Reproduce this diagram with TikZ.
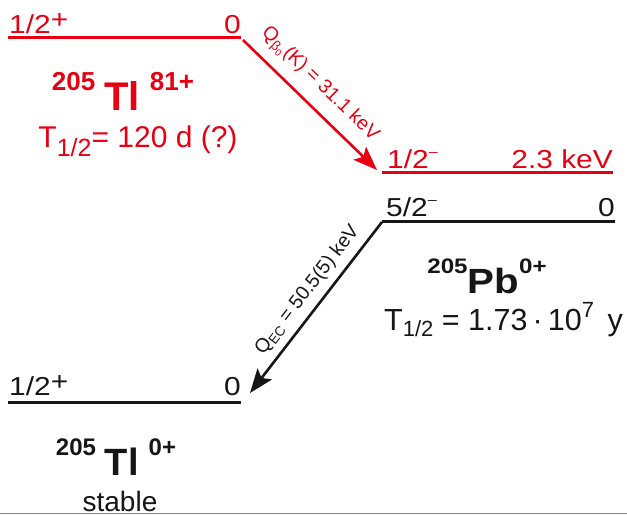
\documentclass[tikz,border=0pt]{standalone}
\usepackage{fontspec}
\usepackage{graphicx}
\setmainfont{Liberation Sans}
\usetikzlibrary{arrows.meta}
\definecolor{nred}{RGB}{230,0,18}
\definecolor{nblk}{RGB}{22,22,22}
\newcommand\fsz[1]{\fontsize{#1}{#1}\selectfont}
\newcommand\plussup{\raisebox{5pt}{+}}
\newcommand\minsup{\raisebox{13pt}{\fsz{14}–}}
\tikzset{
  lvltxt/.style={inner sep=0pt, font=\fsz{26}},
  lvlline/.style={line width=3pt},
  decay/.style={line width=2.6pt, -{Stealth[length=24pt,width=18pt,inset=5pt]}, shorten >=0pt},
  qlabel/.style={inner sep=0pt, font=\fsz{19.5}, sloped},
  bigtxt/.style={inner sep=0pt, anchor=base},
}
\begin{document}
\begin{tikzpicture}[x=1pt,y=-1pt]
\useasboundingbox (0,0) rectangle (627,516);
% ---- 205Tl 81+ (red)
\coordinate (a1) at (8,37.5);
\coordinate (a2) at (241,37.5);
\draw[lvlline, nred] (a1) -- (a2);
\node[lvltxt, text=nred, anchor=base west] (l1j) at (9,34) {\scalebox{1.15}[1]{1/2\plussup}};
\node[lvltxt, text=nred, anchor=base east] (l1e) at (241,34) {\scalebox{1.15}[1]{0}};
\node[bigtxt, text=nred] (tl81) at (123,111)
  {\raisebox{20pt}{\fsz{26}\bfseries 205}\hspace{9pt}{\fsz{40}\bfseries Tl}\hspace{10pt}\raisebox{20pt}{\fsz{26}\bfseries 81+}};
\node[bigtxt, text=nred] (th1) at (138,148)
  {\fsz{30}T\raisebox{-9pt}{\fsz{25}1/2}= 120 d (?)};
% ---- 205Pb 2.3 keV level (red)
\coordinate (b1) at (382,173);
\coordinate (b2) at (613,173);
\draw[lvlline, nred] (b1) -- (b2);
\node[lvltxt, text=nred, anchor=base west] (l2j) at (387,169) {\scalebox{1.15}[1]{1/2\minsup}};
\node[lvltxt, text=nred, anchor=base east] (l2e) at (613,169) {\scalebox{1.15}[1]{2.3 keV}};
% ---- 205Pb ground (black)
\coordinate (c1) at (382,222);
\coordinate (c2) at (615,222);
\draw[lvlline, nblk] (c1) -- (c2);
\node[lvltxt, text=nblk, anchor=base west] (l3j) at (386,217) {\scalebox{1.15}[1]{5/2\minsup}};
\node[lvltxt, text=nblk, anchor=base east] (l3e) at (615,217) {\scalebox{1.15}[1]{0}};
\node[bigtxt, text=nblk] (pb) at (487,293)
  {\scalebox{1.15}[1]{\raisebox{20pt}{\fsz{21}\bfseries 205}{\fsz{35}\bfseries Pb}\raisebox{20pt}{\fsz{21}\bfseries 0+}}};
\node[bigtxt, text=nblk, anchor=base west] (th2) at (384,330)
  {\fsz{30.5}T\raisebox{-6pt}{\fsz{22}1/2} = 1.73\,·\,10\raisebox{13pt}{\fsz{22}7}\, y};
% ---- 205Tl ground (black)
\coordinate (d1) at (8,402);
\coordinate (d2) at (241,402);
\draw[lvlline, nblk] (d1) -- (d2);
\node[lvltxt, text=nblk, anchor=base west] (l4j) at (9,395) {\scalebox{1.15}[1]{1/2\plussup}};
\node[lvltxt, text=nblk, anchor=base east] (l4e) at (241,395) {\scalebox{1.15}[1]{0}};
\node[bigtxt, text=nblk] (tl0) at (116,475)
  {\raisebox{20pt}{\fsz{24}\bfseries 205}\hspace{9pt}{\fsz{38}\bfseries Tl}\hspace{10pt}\raisebox{20pt}{\fsz{24}\bfseries 0+}};
\node[bigtxt, text=nblk] (st) at (120,511) {\fsz{28}stable};
% ---- decays
\coordinate (r0) at (243,40);
\coordinate (r1) at (377,170);
\draw[decay, nred] (r0) -- node[qlabel, text=nred, above=10pt, pos=0.46]
  {Q\textsubscript{β\textsubscript{0}}(K) = 31.1 keV} (r1);
\coordinate (k0) at (382,222);
\coordinate (k1) at (250,393);
\draw[decay, nblk] (k0) -- node[qlabel, text=nblk, above=7pt, pos=0.46]
  {Q\textsubscript{EC} = 50.5(5) keV} (k1);
% ---- bottom rule
\coordinate (g1) at (0,513.5);
\coordinate (g2) at (627,513.5);
\draw[line width=1.5pt, gray] (g1) -- (g2);
\end{tikzpicture}
\end{document}
